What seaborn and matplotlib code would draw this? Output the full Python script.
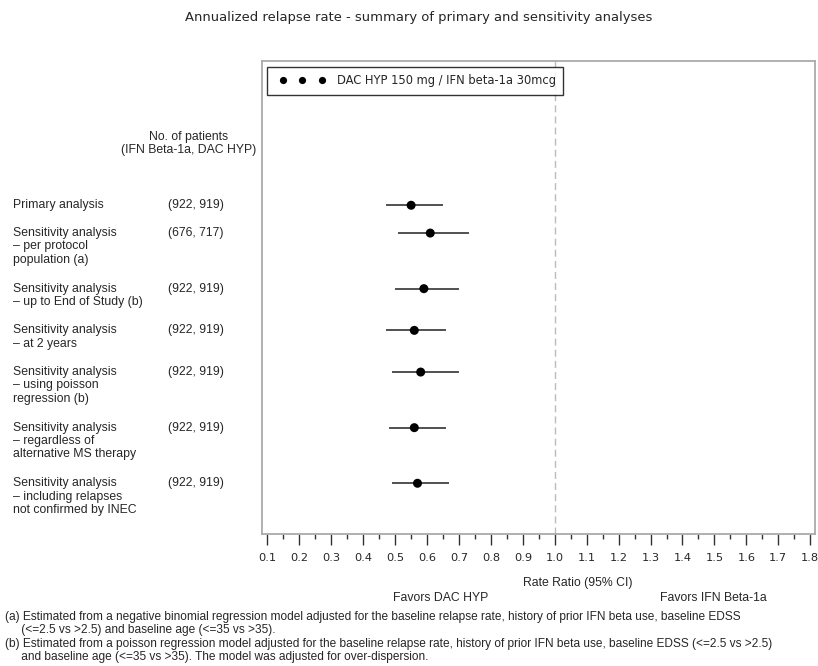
import matplotlib
matplotlib.use("Agg")
import matplotlib.pyplot as plt
import matplotlib.ticker as mticker
from matplotlib.legend_handler import HandlerLine2D
from matplotlib.lines import Line2D
import seaborn as sns
import pandas as pd

# ---- data ----
row_labels = [
    "Primary analysis",
    "Sensitivity analysis\n\u2013 per protocol\npopulation (a)",
    "Sensitivity analysis\n\u2013 up to End of Study (b)",
    "Sensitivity analysis\n\u2013 at 2 years",
    "Sensitivity analysis\n\u2013 using poisson\nregression (b)",
    "Sensitivity analysis\n\u2013 regardless of\nalternative MS therapy",
    "Sensitivity analysis\n\u2013 including relapses\nnot confirmed by INEC",
]
patient_counts = ["(922, 919)", "(676, 717)", "(922, 919)", "(922, 919)",
                  "(922, 919)", "(922, 919)", "(922, 919)"]
rate_ratio = [0.55, 0.61, 0.59, 0.56, 0.58, 0.56, 0.57]
ci_low = [0.47, 0.51, 0.50, 0.47, 0.49, 0.48, 0.49]
ci_high = [0.65, 0.73, 0.70, 0.66, 0.70, 0.66, 0.67]
series_label = "DAC HYP 150 mg / IFN beta-1a 30mcg"
title = "Annualized relapse rate - summary of primary and sensitivity analyses"
x_label = "Rate Ratio (95% CI)"
favors_left = "Favors DAC HYP"
favors_right = "Favors IFN Beta-1a"
header = "No. of patients\n(IFN Beta-1a, DAC HYP)"
footnotes = (
    "(a) Estimated from a negative binomial regression model adjusted for the baseline relapse rate, history of prior IFN beta use, baseline EDSS\n"
    "     (<=2.5 vs >2.5) and baseline age (<=35 vs >35).\n"
    "(b) Estimated from a poisson regression model adjusted for the baseline relapse rate, history of prior IFN beta use, baseline EDSS (<=2.5 vs >2.5)\n"
    "     and baseline age (<=35 vs >35). The model was adjusted for over-dispersion."
)

# row positions follow the number of text lines in each label (one blank line between rows)
ypos = []
acc = 0
for lab in row_labels:
    ypos.append(acc)
    acc += lab.count("\n") + 2

df = pd.DataFrame({"label": row_labels, "y": ypos, "rr": rate_ratio,
                   "lo": ci_low, "hi": ci_high, "series": series_label})

sns.set_style("white")
plt.rcParams["font.family"] = ["DejaVu Sans"]

W, H = 818, 666
fig = plt.figure(figsize=(W / 100, H / 100), dpi=100)
ax = fig.add_axes([262 / W, 1 - 534 / H, (815 - 262) / W, (534 - 60.7) / H])

ax.hlines(df["y"], df["lo"], df["hi"], color="#222222", lw=1.1, zorder=2)
sns.scatterplot(data=df, x="rr", y="y", hue="series", palette=["black"],
                s=42, edgecolor="black", linewidth=0, ax=ax, zorder=3)
ax.axvline(1.0, color="#bbbbbb", lw=1, ls=(0, (5, 3)), zorder=1)

ax.set_xlim(0.083, 1.815)
ax.set_ylim(23.65, -10.4)
ax.xaxis.set_major_locator(mticker.MultipleLocator(0.1))
ax.xaxis.set_minor_locator(mticker.AutoMinorLocator(2))
ax.xaxis.set_major_formatter(mticker.FormatStrFormatter("%.1f"))
ax.set_yticks([])
ax.set_xlabel("")
ax.set_ylabel("")
ax.tick_params(axis="x", which="major", direction="out", length=8, width=1,
               color="#333333", labelsize=8.2, pad=6, bottom=True)
ax.tick_params(axis="x", which="minor", direction="out", length=3.5, width=1,
               color="#333333", bottom=True)
for side in ["top", "left", "right", "bottom"]:
    ax.spines[side].set_visible(True)
    ax.spines[side].set_color("#aaaaaa")
    ax.spines[side].set_linewidth(1.3)

handles, _ = ax.get_legend_handles_labels()
leg = ax.legend(handles[:1], [series_label], loc="upper left",
                bbox_to_anchor=(0.009, 0.986), borderaxespad=0,
                numpoints=3, markerscale=0.8, frameon=True,
                fancybox=False, edgecolor="black", fontsize=8.3, handlelength=4.9,
                handletextpad=0.55, borderpad=0.62, title=None,
                handler_map={Line2D: HandlerLine2D(marker_pad=0.75, numpoints=3)})
leg.get_frame().set_linewidth(1)

lab_font = dict(family=["Liberation Sans", "DejaVu Sans"], fontsize=8.8)
for lab, cnt, y in zip(row_labels, patient_counts, ypos):
    ax.annotate(lab, xy=(13 / W, y), xycoords=("figure fraction", "data"),
                xytext=(0, 4.3), textcoords="offset points", va="top", ha="left",
                linespacing=1.15, annotation_clip=False, **lab_font)
    ax.annotate(cnt, xy=(168 / W, y), xycoords=("figure fraction", "data"),
                xytext=(0, 4.3), textcoords="offset points", va="top", ha="left",
                annotation_clip=False, **lab_font)

fig.text(189 / W, 1 - 143.5 / H, header, ha="center", va="center",
         linespacing=1.15, **lab_font)
fig.text(419 / W, 1 - 17 / H, title, ha="center", va="center", fontsize=9.45)
fig.text(578 / W, 1 - 583 / H, x_label, ha="center", va="center", **lab_font)
fig.text(441 / W, 1 - 598 / H, favors_left, ha="center", va="center", **lab_font)
fig.text(713 / W, 1 - 598 / H, favors_right, ha="center", va="center", **lab_font)
fig.text(5 / W, 1 - 611 / H, footnotes, ha="left", va="top", linespacing=1.15,
         family=["Liberation Sans Narrow", "Liberation Sans", "DejaVu Sans"],
         fontsize=8.6)

fig.savefig("out.png", dpi=100)
